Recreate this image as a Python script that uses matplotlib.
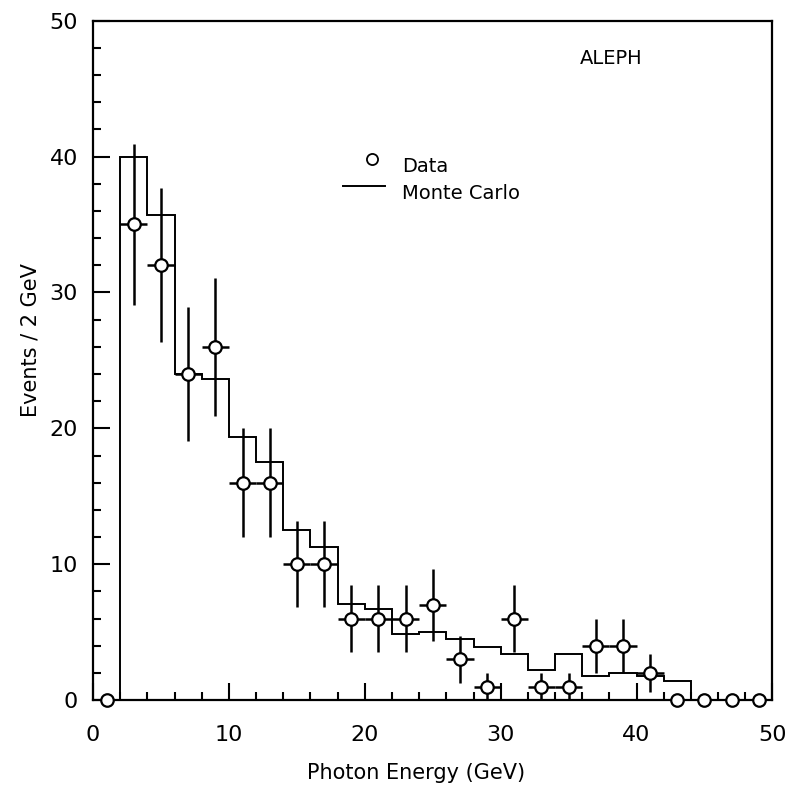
import numpy as np
import matplotlib
matplotlib.use('Agg')
import matplotlib.pyplot as plt
from matplotlib.ticker import MultipleLocator

plt.rc('font', family='DejaVu Sans')

# data: 2 GeV bins
bin_centers = [1, 3, 5, 7, 9, 11, 13, 15, 17, 19, 21, 23, 25,
               27, 29, 31, 33, 35, 37, 39, 41, 43, 45, 47, 49]
data_counts = [0, 35, 32, 24, 26, 16, 16, 10, 10, 6, 6, 6, 7,
               3, 1, 6, 1, 1, 4, 4, 2, 0, 0, 0, 0]

# monte carlo histogram
mc_edges = [0, 2, 4, 6, 8, 10, 12, 14, 16, 18, 20, 22, 24, 26,
            28, 30, 32, 34, 36, 38, 40, 42, 44, 46, 48, 50]
mc_counts = [0, 40.0, 35.7, 24.0, 23.6, 19.4, 17.5, 12.5, 11.3, 7.1, 6.7, 4.9, 5.0,
             4.5, 3.95, 3.4, 2.2, 3.4, 1.75, 1.97, 1.8, 1.45, 0, 0, 0]

x = np.array(bin_centers, dtype=float)
y = np.array(data_counts, dtype=float)
nz = y > 0

fig = plt.figure(figsize=(7.89, 7.93), dpi=100)
ax = fig.add_axes([0.118, 0.117, 0.861, 0.857])

ax.stairs(mc_counts, mc_edges, color='k', linewidth=1.4)
ax.errorbar(x[nz], y[nz], yerr=np.sqrt(y[nz]), xerr=1.0, fmt='none',
            ecolor='k', elinewidth=1.8, capsize=0, zorder=3)
ax.plot(x, y, 'o', mfc='white', mec='k', mew=1.6, ms=9, zorder=4, clip_on=False)

ax.set_xlim(0, 50)
ax.set_ylim(0, 50)
ax.xaxis.set_major_locator(MultipleLocator(10))
ax.xaxis.set_minor_locator(MultipleLocator(2))
ax.yaxis.set_major_locator(MultipleLocator(10))
ax.yaxis.set_minor_locator(MultipleLocator(2))
ax.tick_params(which='both', direction='in', top=False, right=False, width=1.5)
ax.tick_params(which='major', length=12, labelsize=16)
ax.tick_params(axis='x', which='major', pad=18)
ax.tick_params(axis='y', which='major', pad=11)
ax.tick_params(which='minor', length=6)
for s in ax.spines.values():
    s.set_linewidth(1.6)

ax.set_xlabel('Photon Energy (GeV)', fontsize=15)
ax.set_ylabel('Events / 2 GeV', fontsize=15)
ax.xaxis.set_label_coords(0.476, -0.093)
ax.yaxis.set_label_coords(-0.078, 0.53)
ax.text(0.763, 0.944, 'ALEPH', transform=ax.transAxes, fontsize=14, ha='center', va='center')

# legend drawn by hand
ax.plot([0.410], [0.797], 'o', mfc='white', mec='k', mew=1.3, ms=8, transform=ax.transAxes)
ax.plot([0.368, 0.430], [0.756, 0.756], color='k', lw=1.4, transform=ax.transAxes)
ax.text(0.455, 0.785, 'Data', transform=ax.transAxes, fontsize=14, va='center')
ax.text(0.455, 0.746, 'Monte Carlo', transform=ax.transAxes, fontsize=14, va='center')

fig.savefig('out.png', dpi=100)
